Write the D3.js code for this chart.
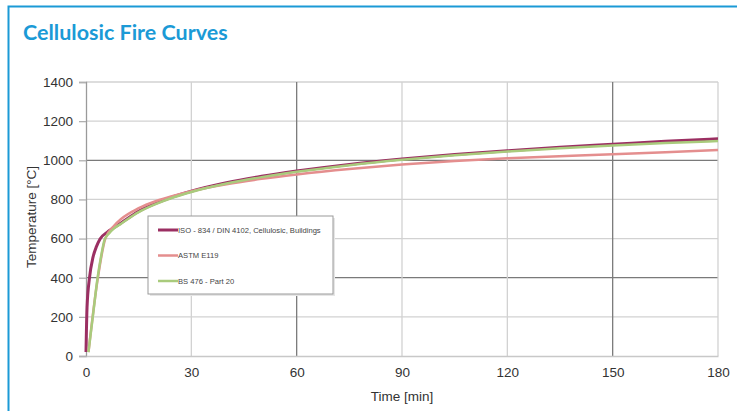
<!DOCTYPE html>
<html>
<head>
<meta charset="utf-8">
<script src="https://cdn.jsdelivr.net/npm/d3@7"></script>
<style>
  body { margin: 0; background: #fff; }
  svg { display: block; }
</style>
</head>
<body>
<div id="chart"></div>
<script>
// curve data
var isoTime = [0, 0.3, 1, 2, 3, 4, 6, 8, 10, 15, 20, 25, 30, 40, 50, 60, 75, 90, 105, 120, 135, 150, 165, 180];
var isoTemp = [20, 250, 400, 505, 560, 598, 632, 656, 680, 739, 781, 815, 842, 885, 918, 945, 979, 1006, 1029, 1049, 1067, 1082, 1097, 1110];

var astmTime = [0.7, 3.3, 5.5, 8, 10, 15, 20, 25, 30, 40, 50, 60, 75, 90, 105, 120, 150, 180];
var astmTemp = [20, 390, 600, 665, 700, 755, 792, 819, 842, 878, 905, 927, 955, 978, 996, 1010, 1031, 1052];

var bsTime = [0.7, 2, 3.3, 4.3, 5.3, 6.5, 8, 10, 15, 20, 25, 30, 40, 50, 60, 75, 90, 105, 120, 135, 150, 165, 180];
var bsTemp = [20, 210, 400, 510, 595, 625, 652, 676, 735, 777, 811, 838, 881, 914, 941, 975, 1003, 1026, 1045, 1061, 1076, 1088, 1098];

var seriesNames = ["ISO - 834 / DIN 4102, Cellulosic, Buildings", "ASTM E119", "BS 476 - Part 20"];
var xTicks = [0, 30, 60, 90, 120, 150, 180];
var yTicks = [0, 200, 400, 600, 800, 1000, 1200, 1400];

var W = 737, H = 411;
var margin = { top: 82, right: 19, bottom: 55, left: 86 },
    width = W - margin.left - margin.right,
    height = H - margin.top - margin.bottom;

var svg = d3.select("#chart").append("svg")
    .attr("width", W)
    .attr("height", H);

// blue frame + title
svg.append("rect")
    .attr("x", 8.5).attr("y", 6.5)
    .attr("width", W + 10).attr("height", H + 10)
    .attr("fill", "none")
    .attr("stroke", "#1b9ad6")
    .attr("stroke-width", 2);

svg.append("text")
    .attr("x", 23).attr("y", 40)
    .attr("font-family", "Lato, 'Open Sans', sans-serif")
    .attr("font-weight", "bold")
    .attr("font-size", "21.5px")
    .attr("fill", "#1b9ad6")
    .text("Cellulosic Fire Curves");

var g = svg.append("g")
    .attr("transform", "translate(" + margin.left + "," + margin.top + ")");

var x = d3.scaleLinear().domain([0, 180]).range([0, width]);
var y = d3.scaleLinear().domain([0, 1400]).range([height, 0]);

// grid
var darkY = [400, 1000], darkX = [60, 150];
g.selectAll(".hgrid")
    .data(yTicks.filter(d => d > 0))
    .enter().append("line")
    .attr("x1", 0).attr("x2", width)
    .attr("y1", d => y(d)).attr("y2", d => y(d))
    .attr("stroke", d => darkY.includes(d) ? "#7a7a7a" : "#d2d2d2")
    .attr("stroke-width", 1.3);

g.selectAll(".vgrid")
    .data(xTicks.filter(d => d > 0))
    .enter().append("line")
    .attr("x1", d => x(d)).attr("x2", d => x(d))
    .attr("y1", 0).attr("y2", height)
    .attr("stroke", d => darkX.includes(d) ? "#7a7a7a" : "#d2d2d2")
    .attr("stroke-width", 1.3);

// axes
var yAxis = g.append("g")
    .call(d3.axisLeft(y).tickValues(yTicks).tickFormat(d3.format("d")).tickSize(7).tickPadding(6));
yAxis.select(".domain").attr("stroke", "#9a9a9a").attr("stroke-width", 1.3);
yAxis.selectAll(".tick line").attr("stroke", "#b0b0b0").attr("stroke-width", 1.3);

var xAxis = g.append("g")
    .attr("transform", "translate(0," + height + ")")
    .call(d3.axisBottom(x).tickValues(xTicks).tickFormat(d3.format("d")).tickSize(0).tickPadding(11));
xAxis.select(".domain").attr("stroke", "#c8c8c8").attr("stroke-width", 1.3);

svg.selectAll(".tick text")
    .attr("font-family", "'Liberation Sans', Arial, sans-serif")
    .attr("font-size", "13.5px")
    .attr("fill", "#333");

g.append("text")
    .attr("x", width / 2).attr("y", height + 45)
    .attr("text-anchor", "middle")
    .attr("font-family", "'Liberation Sans', Arial, sans-serif")
    .attr("font-size", "13.5px")
    .attr("fill", "#333")
    .text("Time [min]");

g.append("text")
    .attr("transform", "rotate(-90)")
    .attr("x", -(height / 2) + 2).attr("y", -50)
    .attr("text-anchor", "middle")
    .attr("font-family", "'Liberation Sans', Arial, sans-serif")
    .attr("font-size", "13.5px")
    .attr("fill", "#333")
    .text("Temperature [°C]");

// curves
var series = [
    { name: seriesNames[0], t: isoTime, v: isoTemp, color: "#9b2f62", w: 3 },
    { name: seriesNames[1], t: astmTime, v: astmTemp, color: "#e48e8e", w: 2.5 },
    { name: seriesNames[2], t: bsTime, v: bsTemp, color: "#a9cb7c", w: 2.5 }
];

var line = d3.line()
    .x(d => x(d[0]))
    .y(d => y(d[1]))
    .curve(d3.curveMonotoneX);

g.selectAll(".curve")
    .data(series)
    .enter().append("path")
    .attr("fill", "none")
    .attr("stroke", d => d.color)
    .attr("stroke-width", d => d.w)
    .attr("stroke-linejoin", "round")
    .attr("d", d => line(d.t.map((t, i) => [t, d.v[i]])));

// legend
var leg = svg.append("g").attr("transform", "translate(148,216)");
leg.append("rect")
    .attr("x", 2).attr("y", 2)
    .attr("width", 185).attr("height", 78)
    .attr("fill", "#e6e6e6");
leg.append("rect")
    .attr("width", 185).attr("height", 78)
    .attr("fill", "#fff")
    .attr("stroke", "#9a9a9a")
    .attr("stroke-width", 1);

var items = leg.selectAll(".item")
    .data(series)
    .enter().append("g")
    .attr("transform", (d, i) => "translate(10," + (14 + i * 25.5) + ")");
items.append("line")
    .attr("x1", 0).attr("x2", 20)
    .attr("stroke", d => d.color)
    .attr("stroke-width", d => d.w);
items.append("text")
    .attr("x", 20).attr("dy", "0.35em")
    .attr("font-family", "'Liberation Sans', Arial, sans-serif")
    .attr("font-size", "7.6px")
    .attr("fill", "#444")
    .text(d => d.name);
</script>
</body>
</html>
